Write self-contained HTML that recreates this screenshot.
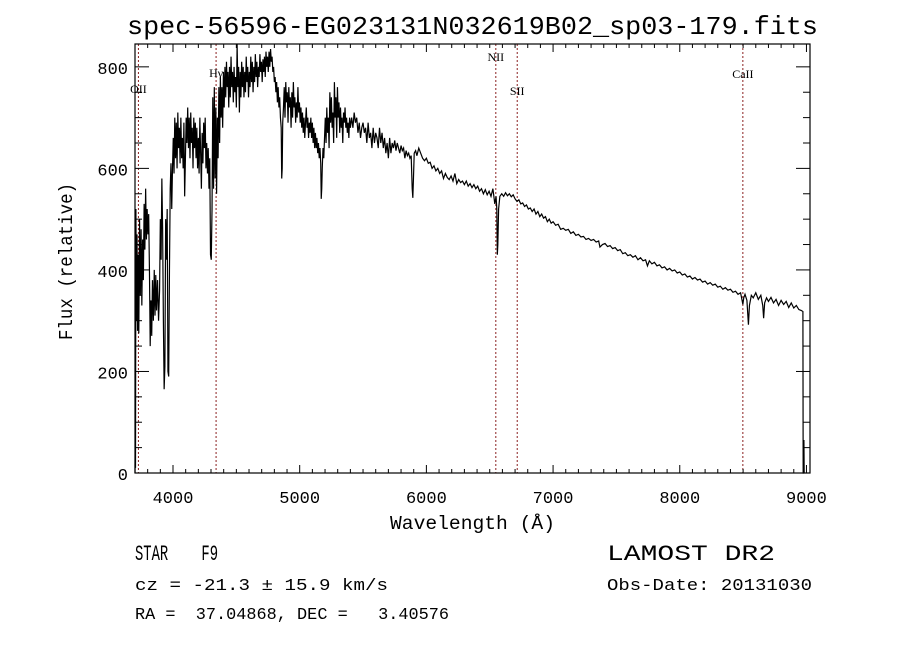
<!DOCTYPE html>
<html><head><meta charset="utf-8"><style>
html,body{margin:0;padding:0;background:#fff;}
svg{display:block;}
text{font-family:"Liberation Mono",monospace;fill:#000;white-space:pre;}
.ln{font-family:"Liberation Serif",serif;font-size:12px;}
</style></head><body>
<svg id="chart" width="900" height="649" viewBox="0 0 900 649" xmlns="http://www.w3.org/2000/svg" xml:space="preserve">
<rect width="900" height="649" fill="#fff"/>
<text x="127" y="34" font-size="26" textLength="691" lengthAdjust="spacingAndGlyphs">spec-56596-EG023131N032619B02_sp03-179.fits</text>
<g id="lines"></g>
<path id="spec" fill="none" stroke="#000" stroke-width="1.2" stroke-linejoin="miter"/>
<rect x="135" y="44" width="675" height="429" fill="none" stroke="#000" stroke-width="1.2"/>
<g id="axes"></g>
<text x="390" y="529" font-size="19" textLength="165" lengthAdjust="spacingAndGlyphs">Wavelength (Å)</text>
<text transform="translate(72,340) rotate(-90)" font-size="19" textLength="157" lengthAdjust="spacingAndGlyphs">Flux (relative)</text>
<text x="135" y="560" font-size="22" textLength="83" lengthAdjust="spacingAndGlyphs">STAR    F9</text>
<text x="607" y="560" font-size="22" textLength="168" lengthAdjust="spacingAndGlyphs">LAMOST DR2</text>
<text x="135" y="590" font-size="17" textLength="253" lengthAdjust="spacingAndGlyphs">cz = -21.3 ± 15.9 km/s</text>
<text x="607" y="590" font-size="17" textLength="205" lengthAdjust="spacingAndGlyphs">Obs-Date: 20131030</text>
<text x="135" y="619" font-size="17" textLength="314" lengthAdjust="spacingAndGlyphs">RA =  37.04868, DEC =   3.40576</text>
</svg>
<script>
const wl=[3700,3702,3704,3707,3712,3716,3720,3725,3730,3736,3742,3748,3754,3760,3766,3772,3778,3784,3790,3796,3802,3808,3814,3820,3826,3832,3838,3845,3852,3858,3864,3870,3878,3886,3894,3900,3906,3912,3918,3924,3930,3936,3942,3948,3954,3960,3966,3972,3978,3984,3990,3996,4002,4008,4014,4020,4026,4032,4038,4044,4050,4056,4062,4068,4074,4080,4086,4092,4098,4104,4110,4116,4122,4128,4134,4140,4146,4152,4158,4164,4170,4176,4182,4188,4194,4200,4206,4212,4218,4224,4230,4236,4242,4248,4254,4260,4266,4272,4278,4284,4290,4296,4302,4308,4314,4320,4326,4332,4338,4344,4350,4356,4362,4368,4374,4380,4386,4392,4398,4404,4410,4416,4422,4428,4434,4440,4446,4452,4458,4464,4470,4476,4482,4488,4494,4500,4506,4512,4518,4524,4530,4536,4542,4548,4554,4560,4566,4572,4578,4584,4590,4596,4602,4608,4614,4620,4626,4632,4638,4644,4650,4656,4662,4668,4674,4680,4686,4692,4698,4704,4710,4716,4722,4728,4734,4740,4746,4752,4758,4764,4770,4776,4782,4788,4794,4800,4806,4812,4818,4824,4830,4836,4842,4848,4854,4858,4862,4866,4872,4878,4884,4890,4896,4902,4908,4914,4920,4926,4932,4938,4944,4950,4956,4962,4968,4974,4980,4986,4992,4998,5004,5010,5016,5022,5028,5034,5040,5046,5052,5058,5064,5070,5076,5082,5088,5094,5100,5106,5112,5118,5124,5130,5136,5142,5148,5154,5160,5166,5170,5174,5178,5184,5190,5196,5202,5208,5214,5220,5226,5232,5238,5244,5250,5256,5262,5268,5274,5280,5286,5292,5298,5304,5310,5316,5322,5328,5334,5340,5346,5352,5358,5364,5370,5376,5382,5388,5394,5400,5410,5420,5430,5440,5450,5460,5470,5480,5490,5500,5510,5520,5530,5540,5550,5560,5570,5580,5590,5600,5610,5620,5630,5640,5650,5660,5670,5680,5690,5700,5710,5720,5730,5740,5750,5760,5770,5780,5790,5800,5810,5820,5830,5840,5850,5860,5870,5880,5888,5893,5898,5904,5915,5925,5940,5955,5970,5985,6000,6015,6030,6045,6060,6075,6090,6105,6120,6135,6150,6165,6180,6195,6210,6225,6240,6255,6270,6285,6300,6315,6330,6345,6360,6375,6390,6405,6420,6435,6450,6465,6480,6495,6510,6525,6540,6550,6556,6560,6564,6570,6580,6595,6610,6625,6640,6655,6670,6685,6700,6715,6730,6745,6760,6775,6790,6805,6820,6835,6850,6865,6880,6895,6910,6925,6940,6955,6970,6985,7000,7020,7040,7060,7080,7100,7120,7140,7160,7180,7200,7220,7240,7260,7280,7300,7320,7340,7360,7370,7390,7410,7430,7450,7470,7490,7510,7530,7550,7570,7590,7610,7630,7650,7670,7690,7710,7730,7745,7760,7780,7800,7820,7840,7860,7880,7900,7920,7940,7960,7980,8000,8020,8040,8060,8080,8100,8120,8140,8160,8180,8200,8220,8240,8260,8280,8300,8320,8340,8360,8380,8400,8420,8440,8460,8480,8492,8498,8505,8515,8530,8542,8550,8565,8580,8600,8620,8640,8655,8662,8670,8685,8700,8720,8740,8760,8780,8800,8820,8840,8860,8880,8900,8920,8940,8960,8972,8974,8978,8980,8982];
const flux=[0,90,10,520,300,470,280,430,275,500,350,480,330,460,380,530,440,560,460,520,470,510,400,250,340,270,380,300,400,310,390,320,380,300,360,500,420,580,480,300,165,210,500,420,520,200,190,400,560,610,520,600,660,590,700,620,690,600,710,640,680,610,700,620,660,600,690,545,620,700,650,720,640,700,620,710,650,680,600,700,640,690,620,680,600,660,590,700,630,560,670,610,690,640,700,600,650,590,640,560,620,430,420,520,740,560,760,580,720,550,700,620,760,650,780,700,760,680,790,720,800,740,810,760,790,720,800,740,820,760,790,730,800,750,780,720,845,760,800,710,790,740,810,760,800,740,790,750,820,770,800,740,790,760,820,770,810,750,800,770,825,780,810,760,800,780,825,790,810,770,815,790,820,780,830,800,820,790,830,800,835,810,820,790,800,770,780,750,770,730,760,720,740,700,680,580,600,690,720,760,700,770,730,750,690,760,720,740,680,750,700,770,720,740,690,730,700,760,710,730,690,720,680,710,670,700,660,690,720,680,700,660,690,670,700,660,690,650,680,640,670,640,660,630,650,620,640,610,540,560,600,640,620,660,700,650,720,670,700,640,750,690,740,680,710,650,770,700,740,660,760,700,730,670,720,680,700,650,710,690,720,680,700,670,690,660,700,680,700,680,710,690,700,670,690,660,680,690,670,680,650,690,660,670,640,680,650,670,660,640,680,650,670,640,660,630,650,620,660,630,650,640,655,635,650,640,630,645,635,640,620,635,625,630,620,625,560,542,580,630,635,625,640,630,620,615,620,610,612,600,605,595,600,590,595,580,590,582,578,585,575,590,570,578,572,575,568,575,565,570,562,568,560,565,555,560,550,558,548,555,545,560,530,545,520,430,450,520,545,550,545,552,546,550,544,548,540,535,538,530,532,525,528,520,522,515,520,510,515,505,510,502,505,495,500,492,495,488,490,480,482,478,480,472,475,468,470,465,466,460,462,458,460,455,457,445,450,452,446,448,442,444,438,440,432,434,428,430,425,428,420,424,418,420,408,418,412,415,408,410,404,406,400,403,398,400,394,396,390,392,386,388,382,385,380,382,376,378,372,375,370,372,366,368,362,365,360,362,356,358,352,355,340,332,345,352,340,292,330,350,345,355,342,350,330,305,335,345,338,346,335,342,330,340,332,338,326,335,325,330,322,320,318,0,0,65,0];
const xTicks=[4000,5000,6000,7000,8000,9000];
const yTicks=[0,200,400,600,800];
const lineWl=[3727,4340,6548,6717,8498];
const lineNames=["OII","Hγ","NII","SII","CaII"];
const lineLabelY=[93,77,61,95,78];

const X0=135,X1=810,Y0=44,Y1=473,WMIN=3700,WMAX=9028,FMIN=0,FMAX=845;
function sx(w){return X0+(w-WMIN)/(WMAX-WMIN)*(X1-X0);}
function sy(f){return Y1-(f-FMIN)/(FMAX-FMIN)*(Y1-Y0);}
const NS='http://www.w3.org/2000/svg';
let d='';
for(let i=0;i<wl.length;i++){d+=(i?'L':'M')+sx(wl[i]).toFixed(2)+' '+sy(flux[i]).toFixed(2);}
document.getElementById('spec').setAttribute('d',d);

const ax=document.getElementById('axes');
function mk(tag,attrs){const e=document.createElementNS(NS,tag);for(const k in attrs)e.setAttribute(k,attrs[k]);return e;}
for(let w=3700;w<=9000;w+=100){
  const major=w%1000===0;const L=major?8:4;const x=sx(w);
  const t1=mk('line',{x1:x,x2:x,y1:Y1,y2:Y1-L,stroke:'#000','stroke-width':1});
  
  
  ax.appendChild(t1);
  const t2=mk('line',{x1:x,x2:x,y1:Y0,y2:Y0+L,stroke:'#000','stroke-width':1});
  
  
  ax.appendChild(t2);
}
xTicks.forEach(v=>{
  const t=mk('text',{x:sx(v),y:503,'font-size':17,'text-anchor':'middle'});
  
  
  t.textContent=String(v);ax.appendChild(t);
});
for(let f=0;f<=FMAX;f+=50){
  const major=f%200===0;const L=major?14:7;const y=sy(f);
  const t1=mk('line',{x1:X0,x2:X0+L,y1:y,y2:y,stroke:'#000','stroke-width':1});
  
  
  ax.appendChild(t1);
  const t2=mk('line',{x1:X1,x2:X1-L,y1:y,y2:y,stroke:'#000','stroke-width':1});
  
  
  ax.appendChild(t2);
}
yTicks.forEach(v=>{
  const t=mk('text',{x:128,y:sy(v)+7,'font-size':17,'text-anchor':'end'});
  
  
  t.textContent=String(v);ax.appendChild(t);
});
const lg=document.getElementById('lines');
lineWl.forEach((w,i)=>{
  const x=sx(w);
  const l=mk('line',{x1:x,x2:x,y1:Y0,y2:Y1,stroke:'#8b2020','stroke-width':1,'stroke-dasharray':'2,2'});
  
  
  lg.appendChild(l);
  const t=mk('text',{x:x,y:lineLabelY[i],'text-anchor':'middle','class':'ln'});
  
  
  t.textContent=lineNames[i];lg.appendChild(t);
});
</script>
</body></html>
